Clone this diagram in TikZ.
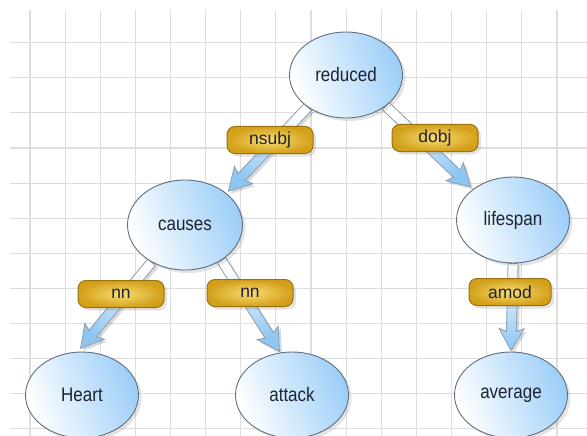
\documentclass[tikz,border=0pt]{standalone}
\usepackage{fontspec}
\setmainfont{Liberation Sans}
\usepackage{graphicx}
\usetikzlibrary{shapes.geometric,shadows,calc,backgrounds}
\definecolor{gridc}{HTML}{DEDEDE}
\definecolor{ellblue}{HTML}{9CCEF8}
\definecolor{elledge}{HTML}{5F6F80}
\definecolor{arrblue}{HTML}{8EC6F2}
\definecolor{arredge}{HTML}{8C9DAE}
\definecolor{goldin}{HTML}{F8DC72}
\definecolor{goldout}{HTML}{D3A01A}
\definecolor{goldedge}{HTML}{9A7110}
\definecolor{txt}{HTML}{1E2430}
\newcommand\ntext[1]{\scalebox{1}[1.15]{#1}}
\newcommand\arrowpoly{(0,-5) -- ({\barlen-19},-5) -- ({\barlen-22},-12.5) -- (\barlen,0) -- ({\barlen-22},12.5) -- ({\barlen-19},5) -- (0,5) -- cycle}
\newcommand\blockarrow[2]{%
  \path let \p1=(#1), \p2=(#2) in \pgfextra{%
    \pgfmathsetmacro\tmpa{atan2(\y2-\y1,\x2-\x1)}%
    \pgfmathsetmacro\tmpl{veclen(\x2-\x1,\y2-\y1)}%
    \xdef\barang{\tmpa}\xdef\barlen{\tmpl}};
  \pgfmathsetmacro\shang{\barang+90}%
  \begin{scope}[shift={(#1)}, xshift=2.5pt, yshift=-2.5pt, rotate=\barang]
    \fill[black, opacity=0.15] \arrowpoly;
  \end{scope}
  \begin{scope}[shift={(#1)}, rotate=\barang]
    \draw[arredge, line width=0.8pt, top color=white, bottom color=arrblue, shading angle=\shang] \arrowpoly;
  \end{scope}
}
\tikzset{
  word/.style={ellipse, draw=elledge, line width=0.9pt, left color=white, right color=ellblue, shading angle=110,
    minimum width=113pt, minimum height=86pt, inner sep=0pt, text=txt, font=\fontsize{17}{20}\selectfont,
    drop shadow={opacity=0.22, shadow xshift=3pt, shadow yshift=-3pt}},
  rel/.style={rectangle, rounded corners=8pt, draw=goldedge, line width=1pt, inner color=goldin, outer color=goldout,
    minimum width=86pt, minimum height=27pt, inner sep=0pt, text=txt, font=\fontsize{17.5}{20}\selectfont,
    drop shadow={opacity=0.22, shadow xshift=3pt, shadow yshift=-3pt}},
  gridline/.style={gridc, line width=1.1pt}
}
\begin{document}
\begin{tikzpicture}[x=1pt, y=-1pt]
\useasboundingbox (0,0) rectangle (587,436);
\begin{pgfonlayer}{background}
  \fill[white] (0,0) rectangle (587,436);
  \foreach \i in {0,...,15} \draw[gridline] ({30+35.13*\i},10) -- ({30+35.13*\i},436);
  \foreach \j in {0,...,11} \draw[gridline] (10,{42.7+35.1*\j}) -- (587,{42.7+35.1*\j});
\end{pgfonlayer}

\node[word] (reduced) at (346,75) {\ntext{reduced}};
\node[word, minimum width=115pt, minimum height=90pt] (causes) at (185,225) {\ntext{causes}};
\node[word] (lifespan) at (513,220) {\ntext{lifespan}};
\node[word] (heart) at (82,395) {\ntext{Heart}};
\node[word] (attack) at (292,395) {\ntext{attack}};
\node[word] (average) at (511,395) {\ntext{average}};

\coordinate (s1) at (reduced.220);
\coordinate (e1) at ($(causes.38)!-3pt!(causes.center)$);
\coordinate (s2) at (reduced.322);
\coordinate (e2) at ($(lifespan.142)!-3pt!(lifespan.center)$);
\coordinate (s3) at (causes.228);
\coordinate (e3) at ($(heart.92)!-3pt!(heart.center)$);
\coordinate (s4) at (causes.316);
\coordinate (e4) at ($(attack.106)!-1pt!(attack.center)$);
\coordinate (s5) at (lifespan.270);
\coordinate (e5) at ($(average.90)!-1pt!(average.center)$);

\begin{pgfonlayer}{background}
  \blockarrow{s1}{e1}
  \blockarrow{s2}{e2}
  \blockarrow{s3}{e3}
  \blockarrow{s4}{e4}
  \blockarrow{s5}{e5}
\end{pgfonlayer}

\node[rel] (l1) at (270,140) {nsubj};
\node[rel] (l2) at (435,138) {dobj};
\node[rel] (l3) at (121,294) {nn};
\node[rel] (l4) at (250,293) {nn};
\node[rel, minimum width=82pt] (l5) at (510,292) {amod};
\end{tikzpicture}
\end{document}
